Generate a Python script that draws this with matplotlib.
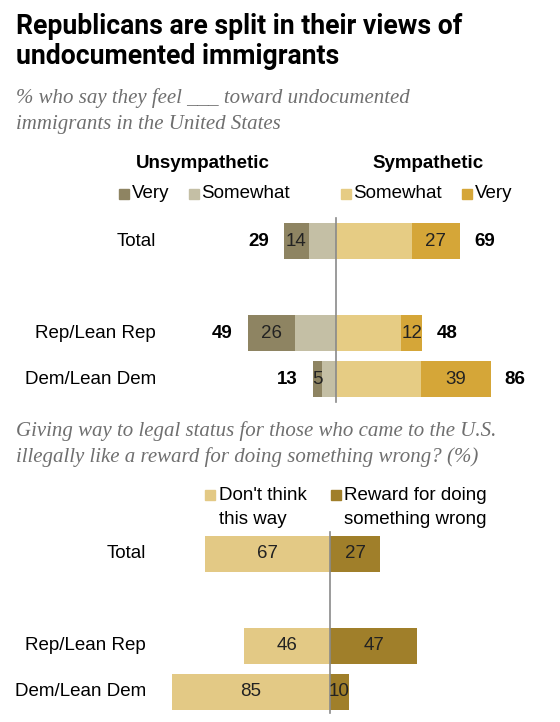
import matplotlib.pyplot as plt
from matplotlib.patches import Rectangle

# top chart: sympathy toward undocumented immigrants
groups = ['Total', 'Rep/Lean Rep', 'Dem/Lean Dem']
unsym_very = [14, 26, 5]
unsym_total = [29, 49, 13]
sym_very = [27, 12, 39]
sym_total = [69, 48, 86]

# bottom chart: legal status a reward for wrongdoing?
dont_think = [67, 46, 85]
reward = [27, 47, 10]

row_pos = [0, 2, 3]

c_unsym_very = '#8E8462'
c_unsym_some = '#C4BFA5'
c_sym_some = '#E6CC84'
c_sym_very = '#D5A638'
c_dont = '#E3C985'
c_reward = '#A07F2A'

W, H = 560, 722
fig = plt.figure(figsize=(W / 100, H / 100), dpi=100)
plt.rcParams['font.family'] = ['Liberation Sans', 'DejaVu Sans']
FS = 13.5


def fx(px):
    return px / W


def fy(py):
    return 1 - py / H


def axes_px(left, top, width, height):
    return fig.add_axes([fx(left), fy(top + height), width / W, height / H])


def legend_box(x, y, color):
    fig.patches.append(Rectangle((fx(x), fy(y + 10)), 10 / W, 10 / H,
                                 transform=fig.transFigure, color=color))


# titles, squeezed to the width of the original headline
t1 = fig.text(fx(16), fy(34), 'Republicans are split in their views of', fontsize=20,
              fontweight='bold', va='baseline', ha='left', family='Roboto')
t2 = fig.text(fx(16), fy(64), 'undocumented immigrants', fontsize=20,
              fontweight='bold', va='baseline', ha='left', family='Roboto')
r = fig.canvas.get_renderer()
w1 = t1.get_window_extent(r).width
for t in (t1, t2):
    t.set_fontsize(20 * 446 / w1)

fig.text(fx(16), fy(103), '% who say they feel ___ toward undocumented', fontsize=15,
         style='italic', color='#6f6f6f', va='baseline', family='Liberation Serif')
fig.text(fx(16), fy(129), 'immigrants in the United States', fontsize=15,
         style='italic', color='#6f6f6f', va='baseline', family='Liberation Serif')

# ---- top chart ----
scale1 = 1.8
center1 = 336
ax1 = axes_px(0, 200, W, 210)
ax1.set_xlim(-center1 / scale1, (W - center1) / scale1)
ax1.set_ylim((410 - 241) / 46, (200 - 241) / 46)
ax1.axis('off')

unsym_some = [t - v for t, v in zip(unsym_total, unsym_very)]
sym_some = [t - v for t, v in zip(sym_total, sym_very)]
bh = 0.78
ax1.barh(row_pos, [-v for v in unsym_some], height=bh, color=c_unsym_some)
ax1.barh(row_pos, [-v for v in unsym_very], left=[-v for v in unsym_some],
         height=bh, color=c_unsym_very)
ax1.barh(row_pos, sym_some, height=bh, color=c_sym_some)
ax1.barh(row_pos, sym_very, left=sym_some, height=bh, color=c_sym_very)
ax1.plot([0, 0], [-0.5, 3.5], color='#8a8a8a', lw=1.2)

for i, y in enumerate(row_pos):
    ax1.annotate(groups[i], (-center1 / scale1, y), xytext=(156, 0),
                 textcoords='offset pixels', ha='right', va='center', fontsize=FS)
    ax1.text(-unsym_some[i] - unsym_very[i] / 2, y, str(unsym_very[i]),
             ha='center', va='center', fontsize=FS, color='#222')
    ax1.text(sym_some[i] + sym_very[i] / 2, y, str(sym_very[i]),
             ha='center', va='center', fontsize=FS, color='#222')
    ax1.annotate(str(unsym_total[i]), (-unsym_total[i], y), xytext=(-15, 0),
                 textcoords='offset pixels', ha='right', va='center',
                 fontsize=FS, fontweight='bold')
    ax1.annotate(str(sym_total[i]), (sym_total[i], y), xytext=(14, 0),
                 textcoords='offset pixels', ha='left', va='center',
                 fontsize=FS, fontweight='bold')

fig.text(fx(203), fy(164), 'Unsympathetic', fontsize=FS, fontweight='bold',
         ha='center', va='center')
fig.text(fx(428), fy(164), 'Sympathetic', fontsize=FS, fontweight='bold',
         ha='center', va='center')
legend_box(119, 189, c_unsym_very)
fig.text(fx(132), fy(194), 'Very', fontsize=FS, va='center')
legend_box(189, 189, c_unsym_some)
fig.text(fx(201), fy(194), 'Somewhat', fontsize=FS, va='center')
legend_box(341, 189, c_sym_some)
fig.text(fx(353), fy(194), 'Somewhat', fontsize=FS, va='center')
legend_box(462, 189, c_sym_very)
fig.text(fx(475), fy(194), 'Very', fontsize=FS, va='center')

# ---- bottom chart ----
fig.text(fx(16), fy(436), 'Giving way to legal status for those who came to the U.S.',
         fontsize=15, style='italic', color='#6f6f6f', va='baseline',
         family='Liberation Serif')
fig.text(fx(16), fy(462), 'illegally like a reward for doing something wrong? (%)',
         fontsize=15, style='italic', color='#6f6f6f', va='baseline',
         family='Liberation Serif')

legend_box(205, 490, c_dont)
fig.text(fx(219), fy(495), "Don't think", fontsize=FS, va='center')
fig.text(fx(219), fy(519), 'this way', fontsize=FS, va='center')
legend_box(331, 490, c_reward)
fig.text(fx(344), fy(495), 'Reward for doing', fontsize=FS, va='center')
fig.text(fx(344), fy(519), 'something wrong', fontsize=FS, va='center')

scale2 = 1.86
center2 = 330
ax2 = axes_px(0, 520, W, 202)
ax2.set_xlim(-center2 / scale2, (W - center2) / scale2)
ax2.set_ylim((722 - 554) / 46, (520 - 554) / 46)
ax2.axis('off')

ax2.barh(row_pos, [-v for v in dont_think], height=bh, color=c_dont)
ax2.barh(row_pos, reward, height=bh, color=c_reward)
ax2.plot([0, 0], [-0.48, 3.46], color='#8a8a8a', lw=1.2)

for i, y in enumerate(row_pos):
    ax2.annotate(groups[i], (-center2 / scale2, y), xytext=(146, 0),
                 textcoords='offset pixels', ha='right', va='center', fontsize=FS)
    ax2.text(-dont_think[i] / 2, y, str(dont_think[i]), ha='center',
             va='center', fontsize=FS, color='#222')
    ax2.text(reward[i] / 2, y, str(reward[i]), ha='center', va='center',
             fontsize=FS, color='#222')

fig.savefig('out.png', dpi=100)
